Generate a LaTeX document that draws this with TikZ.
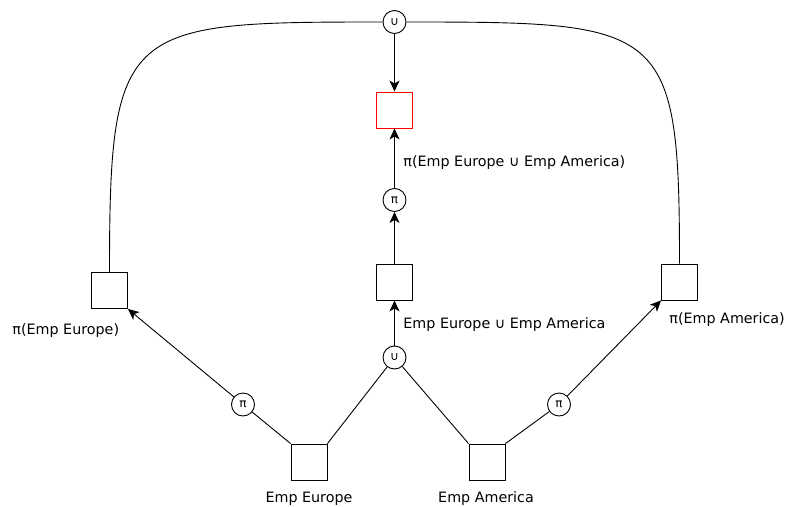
\documentclass[tikz,border=0pt]{standalone}
\usepackage{fontspec}
\setmainfont{DejaVu Sans}
\usetikzlibrary{arrows.meta}
\begin{document}
\begin{tikzpicture}[x=1pt,y=-1pt,
  every path/.style={line width=0.9pt},
  rel/.style={draw, rectangle, minimum size=36pt, inner sep=0pt},
  result/.style={rel, draw=red},
  op/.style={draw, circle, minimum size=23pt, inner sep=0pt, font=\fontsize{12}{13}\selectfont},
  lbl/.style={inner sep=0pt, font=\fontsize{14.3}{16}\selectfont},
  flow/.style={-{Stealth[length=11pt,width=10pt,inset=3pt]}}
]
\useasboundingbox (0,0) rectangle (787,506);

% operators
\node[op] (utop) at (394.5,22) {∪};
\node[op] (pmid) at (394.5,200) {π};
\node[op] (ulow) at (394.5,357.5) {∪};
\node[op] (pl) at (243,404.5) {π};
\node[op] (pr) at (559,404.5) {π};

% relations
\node[result] (res) at (394.5,110) {};
\node[rel] (uni) at (394.5,282) {};
\node[rel] (pe) at (109.5,290.5) {};
\node[rel] (pa) at (679.5,282) {};
\node[rel] (ee) at (309,462) {};
\node[rel] (ea) at (487,462) {};

% labels
\node[lbl, anchor=base west] (lres) at (403,166) {π(Emp Europe ∪ Emp America)};
\node[lbl, anchor=base west] (luni) at (403,328) {Emp Europe ∪ Emp America};
\node[lbl, anchor=base west] (lpe) at (12,334) {π(Emp Europe)};
\node[lbl, anchor=base west] (lpa) at (669,323) {π(Emp America)};
\node[lbl, anchor=base] (lee) at (309,502) {Emp Europe};
\node[lbl, anchor=base] (lea) at (486,502) {Emp America};

% connectors
\draw (ee.north east) -- (ulow);
\draw (ea.north west) -- (ulow);
\draw[flow] (ulow) -- (uni);
\draw[flow] (uni) -- (pmid);
\draw[flow] (pmid) -- (res);
\draw[flow] (utop) -- (res);

\draw (ee.north west) -- (pl);
\draw[flow] (pl) -- (pe.south east);
\draw (ea.north east) -- (pr);
\draw[flow] (pr) -- (pa.south west);

\draw (pe.north) .. controls (109.5,24) and (124,22) .. (utop.west);
\draw (pa.north) .. controls (679.5,24) and (665,22) .. (utop.east);
\end{tikzpicture}
\end{document}
